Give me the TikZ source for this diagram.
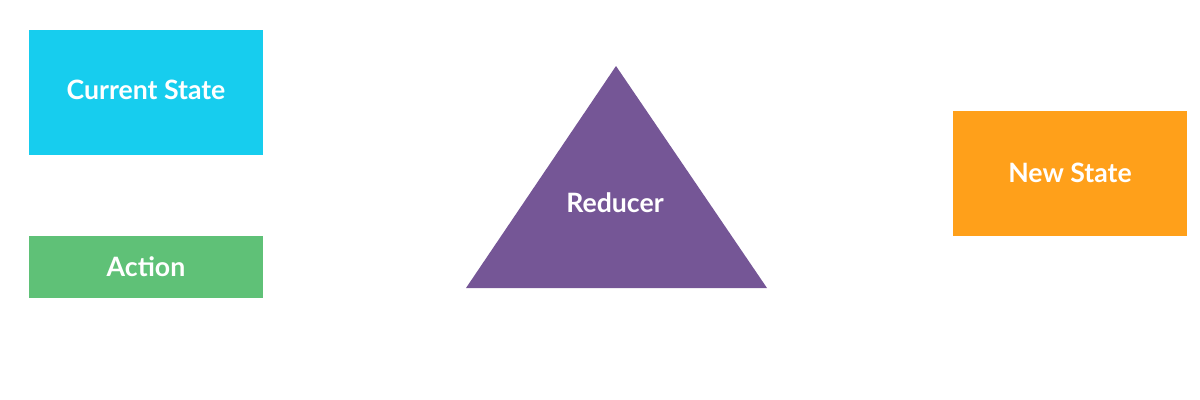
\documentclass[tikz,border=0pt]{standalone}
\usepackage{fontspec}
\setmainfont{Lato}[UprightFont=* Bold]
\begin{document}
\begin{tikzpicture}[x=0.75pt,y=-0.75pt,
  lbl/.style={text=white,font=\fontsize{20}{22}\selectfont}]
\definecolor{cstate}{HTML}{17CDEE}
\definecolor{caction}{HTML}{5FC177}
\definecolor{creducer}{HTML}{755696}
\definecolor{cnew}{HTML}{FFA01A}
\useasboundingbox (0,0) rectangle (1200,400);
\fill[cstate] (29,30) rectangle (263,155);
\node[lbl] (current) at (146,90) {Current State};
\fill[caction] (29,236) rectangle (263,298);
\node[lbl] (action) at (146,267) {Action};
\fill[creducer] (616,66) -- (767,288) -- (466,288) -- cycle;
\node[lbl] (reducer) at (615,203) {Reducer};
\fill[cnew] (953,111) rectangle (1187,236);
\node[lbl] (newstate) at (1070,173) {New State};
\end{tikzpicture}
\end{document}
